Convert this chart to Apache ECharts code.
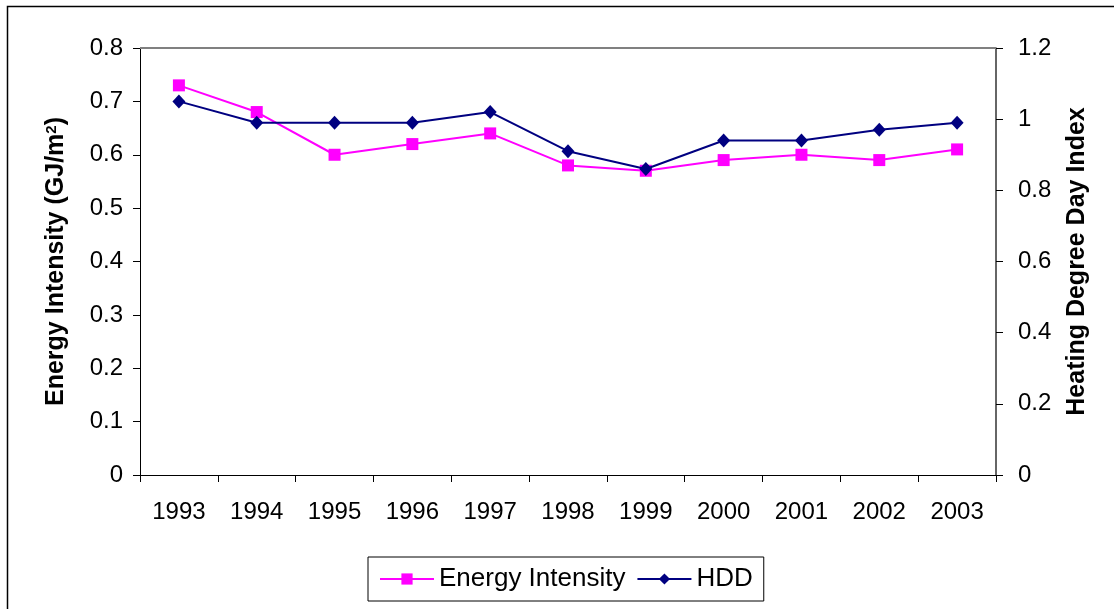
<!DOCTYPE html>
<html><head><meta charset="utf-8">
<script src="https://cdn.jsdelivr.net/npm/echarts@6/dist/echarts.min.js"></script>
<style>html,body{margin:0;padding:0;background:#fff}#c{width:1114px;height:609px}</style>
</head><body><div id="c"></div>
<script>
const years = ['1993','1994','1995','1996','1997','1998','1999','2000','2001','2002','2003'];
const energyIntensity = [0.73,0.68,0.60,0.62,0.64,0.58,0.57,0.59,0.60,0.59,0.61];
const hdd = [1.05,0.99,0.99,0.99,1.02,0.91,0.86,0.94,0.94,0.97,0.99];
const leftTicks = [0,0.1,0.2,0.3,0.4,0.5,0.6,0.7,0.8];
const rightTicks = [0,0.2,0.4,0.6,0.8,1,1.2];

const chart = echarts.init(document.getElementById('c'));
const font = 'Liberation Sans, Arial, sans-serif';
const titleStyle = {fontFamily:font,fontSize:25,fontWeight:'bold',color:'#000'};
chart.setOption({
  animation:false,
  backgroundColor:'#fff',
  graphic:[{type:'rect',shape:{x:7.5,y:6.5,width:1120,height:620},style:{fill:'none',stroke:'#000',lineWidth:1.5},silent:true}],
  grid:{left:140,right:118,top:48,bottom:134,show:false},
  legend:{
    left:368, top:557,
    data:['Energy Intensity','HDD'],
    borderColor:'#000', borderWidth:1, padding:[9,11,9,11],
    itemWidth:54, itemHeight:14, itemGap:11,
    textStyle:{fontFamily:font,fontSize:26,color:'#000'}
  },
  xAxis:{
    type:'category', data:years, boundaryGap:true,
    axisLine:{lineStyle:{color:'#000',width:1}},
    axisTick:{show:true,alignWithLabel:false,length:7,lineStyle:{color:'#000'}},
    axisLabel:{fontFamily:font,fontSize:24,color:'#000',margin:25}
  },
  yAxis:[{
    type:'value', min:0, max:0.8, interval:0.1,
    name:'Energy Intensity (GJ/m{sup|2})', nameLocation:'middle', nameGap:71, nameRotate:90,
    nameTextStyle:Object.assign({}, titleStyle, {rich:{sup:{fontFamily:font,fontSize:15,fontWeight:'bold',color:'#000',verticalAlign:'top',padding:[0,0,10,0]}}}),
    axisLine:{show:true,lineStyle:{color:'#000',width:1}},
    axisTick:{show:true,length:7,inside:false,lineStyle:{color:'#000'}},
    axisLabel:{fontFamily:font,fontSize:24,color:'#000',margin:17,
      formatter:v=>{const t=leftTicks.find(x=>Math.abs(x-v)<1e-9);return t===undefined?'':String(t);}},
    splitLine:{show:false}
  },{
    type:'value', min:0, max:1.2, interval:0.2, position:'right',
    name:'Heating Degree Day Index', nameLocation:'middle', nameGap:69, nameRotate:90,
    nameTextStyle:titleStyle,
    axisLine:{show:true,lineStyle:{color:'#333',width:1.5}},
    axisTick:{show:true,length:7,lineStyle:{color:'#000'}},
    axisLabel:{fontFamily:font,fontSize:24,color:'#000',margin:22,
      formatter:v=>{const t=rightTicks.find(x=>Math.abs(x-v)<1e-9);return t===undefined?'':String(t);}},
    splitLine:{show:false}
  }],
  series:[{
    name:'Energy Intensity', type:'line', yAxisIndex:0, data:energyIntensity,
    symbol:'rect', symbolSize:12,
    lineStyle:{color:'#ff00ff',width:2}, itemStyle:{color:'#ff00ff'},
    z:2
  },{
    name:'HDD', type:'line', yAxisIndex:1, data:hdd,
    symbol:'diamond', symbolSize:[13,14],
    lineStyle:{color:'#000080',width:2}, itemStyle:{color:'#000080'},
    z:3,
    markLine:{silent:true,symbol:'none',label:{show:false},
      lineStyle:{color:'#808080',width:2,type:'solid'},
      data:[{yAxis:1.2}]}
  }]
});
</script></body></html>
